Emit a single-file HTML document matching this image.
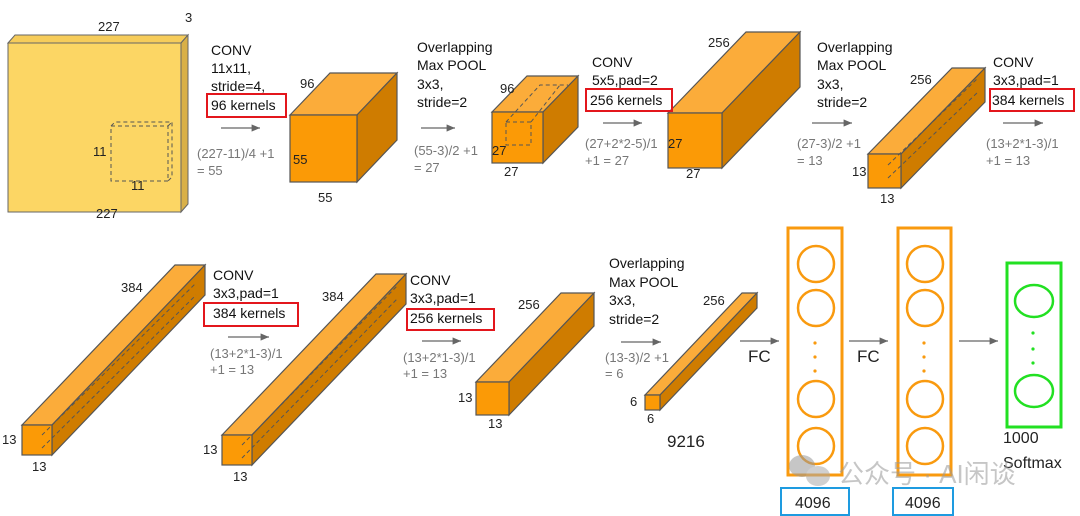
<!DOCTYPE html>
<html><head><meta charset="utf-8"><style>
html,body{margin:0;padding:0;background:#fff;}
svg{display:block;font-family:"Liberation Sans","Noto Sans CJK SC",sans-serif;}
.t{font-size:14px;fill:#111;}
.g{font-size:13px;fill:#777;}
.n{font-size:13px;fill:#222;}
.f{fill:#fb9a06;stroke:#555;stroke-width:1.2;}
.tp{fill:#fbac3a;stroke:#555;stroke-width:1.2;}
.sd{fill:#cf7c00;stroke:#555;stroke-width:1.2;}
.d{fill:none;stroke:#555;stroke-width:1;stroke-dasharray:4,3;}
.r{fill:none;stroke:#e3161c;stroke-width:2;}
.a{stroke:#666;stroke-width:1.2;}
</style></head><body>
<svg width="1080" height="516" viewBox="0 0 1080 516" xmlns="http://www.w3.org/2000/svg">
<defs><marker id="m" markerWidth="8" markerHeight="8" refX="7" refY="3" orient="auto"><path d="M0,0 L7,3 L0,6 z" fill="#666"/></marker></defs>

<!-- input -->
<polygon points="8,43 15,35 188,35 181,43" fill="#f6cc5a" stroke="#666"/>
<polygon points="181,43 188,35 188,204 181,212" fill="#d9b048" stroke="#666"/>
<rect x="8" y="43" width="173" height="169" fill="#fcd664" stroke="#666"/>
<rect x="111" y="126" width="57" height="55" class="d"/>
<path d="M111,126 L115,122 L172,122 L172,177 L168,181 M168,126 L172,122" class="d"/>
<text x="98" y="31" class="n">227</text><text x="185" y="22" class="n">3</text>
<text x="96" y="218" class="n">227</text>
<text x="93" y="156" class="n" font-size="14">11</text><text x="131" y="190" class="n" font-size="14">11</text>

<!-- box55 -->
<polygon class="tp" points="290,115 330,73 397,73 357,115"/>
<polygon class="sd" points="357,115 397,73 397,140 357,182"/>
<rect class="f" x="290" y="115" width="67" height="67"/>
<text x="300" y="88" class="n">96</text><text x="293" y="164" class="n" font-size="14">55</text><text x="318" y="202" class="n">55</text>

<!-- box27 -->
<polygon class="tp" points="492,112 527,76 578,76 543,112"/>
<polygon class="sd" points="543,112 578,76 578,127 543,163"/>
<rect class="f" x="492" y="112" width="51" height="51"/>
<rect x="506" y="122" width="25" height="23" class="d"/>
<path d="M531,122 L560,85 M506,122 L540,85 L568,85" class="d"/>
<text x="500" y="93" class="n">96</text><text x="492" y="155" class="n" font-size="14">27</text><text x="504" y="176" class="n">27</text>

<!-- box256 -->
<polygon class="tp" points="668,113 746,32 800,32 722,113"/>
<polygon class="sd" points="722,113 800,32 800,87 722,168"/>
<rect class="f" x="668" y="113" width="54" height="55"/>
<text x="708" y="47" class="n">256</text><text x="668" y="148" class="n" font-size="14">27</text><text x="686" y="178" class="n">27</text>

<!-- box13 -->
<polygon class="tp" points="868,154 952,68 985,68 901,154"/>
<polygon class="sd" points="901,154 985,68 985,102 901,188"/>
<rect class="f" x="868" y="154" width="33" height="34"/>
<path d="M888,165 L978,78 M888,178 L978,92" class="d"/>
<text x="910" y="84" class="n">256</text><text x="852" y="176" class="n">13</text><text x="880" y="203" class="n">13</text>

<!-- row2 A -->
<polygon class="tp" points="22,425 175,265 205,265 52,425"/>
<polygon class="sd" points="52,425 205,265 205,295 52,455"/>
<rect class="f" x="22" y="425" width="30" height="30"/>
<path d="M42,435 L196,283 M42,448 L196,295" class="d"/>
<text x="121" y="292" class="n">384</text><text x="2" y="444" class="n">13</text><text x="32" y="471" class="n">13</text>

<!-- B -->
<polygon class="tp" points="222,435 376,274 406,274 252,435"/>
<polygon class="sd" points="252,435 406,274 406,304 252,465"/>
<rect class="f" x="222" y="435" width="30" height="30"/>
<path d="M242,445 L398,285 M242,458 L398,298" class="d"/>
<text x="322" y="301" class="n">384</text><text x="203" y="454" class="n">13</text><text x="233" y="481" class="n">13</text>

<!-- C -->
<polygon class="tp" points="476,382 561,293 594,293 509,382"/>
<polygon class="sd" points="509,382 594,293 594,326 509,415"/>
<rect class="f" x="476" y="382" width="33" height="33"/>
<text x="518" y="309" class="n">256</text><text x="458" y="402" class="n">13</text><text x="488" y="428" class="n">13</text>

<!-- D -->
<polygon class="tp" points="645,395 742,293 757,293 660,395"/>
<polygon class="sd" points="660,395 757,293 757,308 660,410"/>
<rect class="f" x="645" y="395" width="15" height="15"/>
<text x="703" y="305" class="n">256</text><text x="630" y="406" class="n">6</text><text x="647" y="423" class="n">6</text>
<text x="667" y="447" font-size="17" fill="#222">9216</text>

<!-- text row1 -->
<text class="t" x="211" y="55">CONV</text><text class="t" x="211" y="73">11x11,</text><text class="t" x="211" y="91">stride=4,</text><text class="t" x="211" y="110">96 kernels</text>
<rect class="r" x="207" y="94" width="79" height="23"/>
<line class="a" x1="221" y1="128" x2="260" y2="128" marker-end="url(#m)"/>
<text class="g" x="197" y="158">(227-11)/4 +1</text><text class="g" x="197" y="175">= 55</text>

<text class="t" x="417" y="52">Overlapping</text><text class="t" x="417" y="70">Max POOL</text><text class="t" x="417" y="89">3x3,</text><text class="t" x="417" y="107">stride=2</text>
<line class="a" x1="421" y1="128" x2="455" y2="128" marker-end="url(#m)"/>
<text class="g" x="414" y="155">(55-3)/2 +1</text><text class="g" x="414" y="172">= 27</text>

<text class="t" x="592" y="67">CONV</text><text class="t" x="592" y="85">5x5,pad=2</text><text class="t" x="590" y="105">256 kernels</text>
<rect class="r" x="586" y="89" width="86" height="22"/>
<line class="a" x1="603" y1="123" x2="642" y2="123" marker-end="url(#m)"/>
<text class="g" x="585" y="148">(27+2*2-5)/1</text><text class="g" x="585" y="165">+1  = 27</text>

<text class="t" x="817" y="52">Overlapping</text><text class="t" x="817" y="70">Max POOL</text><text class="t" x="817" y="89">3x3,</text><text class="t" x="817" y="107">stride=2</text>
<line class="a" x1="812" y1="123" x2="852" y2="123" marker-end="url(#m)"/>
<text class="g" x="797" y="148">(27-3)/2 +1</text><text class="g" x="797" y="165">= 13</text>

<text class="t" x="993" y="67">CONV</text><text class="t" x="993" y="85">3x3,pad=1</text><text class="t" x="992" y="105">384 kernels</text>
<rect class="r" x="990" y="89" width="84" height="22"/>
<line class="a" x1="1003" y1="123" x2="1043" y2="123" marker-end="url(#m)"/>
<text class="g" x="986" y="148">(13+2*1-3)/1</text><text class="g" x="986" y="165">+1  = 13</text>

<!-- text row2 -->
<text class="t" x="213" y="280">CONV</text><text class="t" x="213" y="298">3x3,pad=1</text><text class="t" x="213" y="318">384 kernels</text>
<rect class="r" x="204" y="303" width="94" height="23"/>
<line class="a" x1="228" y1="337" x2="269" y2="337" marker-end="url(#m)"/>
<text class="g" x="210" y="358">(13+2*1-3)/1</text><text class="g" x="210" y="374">+1  = 13</text>

<text class="t" x="410" y="285">CONV</text><text class="t" x="410" y="303">3x3,pad=1</text><text class="t" x="410" y="323">256 kernels</text>
<rect class="r" x="407" y="309" width="87" height="21"/>
<line class="a" x1="422" y1="341" x2="461" y2="341" marker-end="url(#m)"/>
<text class="g" x="403" y="362">(13+2*1-3)/1</text><text class="g" x="403" y="378">+1  = 13</text>

<text class="t" x="609" y="268">Overlapping</text><text class="t" x="609" y="287">Max POOL</text><text class="t" x="609" y="305">3x3,</text><text class="t" x="609" y="324">stride=2</text>
<line class="a" x1="621" y1="342" x2="661" y2="342" marker-end="url(#m)"/>
<text class="g" x="605" y="362">(13-3)/2 +1</text><text class="g" x="605" y="378">= 6</text>

<!-- FC -->
<line class="a" x1="740" y1="341" x2="779" y2="341" marker-end="url(#m)"/>
<text x="748" y="362" font-size="17" fill="#222">FC</text>
<rect x="788" y="228" width="54" height="247" fill="none" stroke="#f99a0f" stroke-width="3"/>
<g fill="none" stroke="#f99a0f" stroke-width="2.5">
<circle cx="816" cy="264" r="18"/><circle cx="816" cy="308" r="18"/><circle cx="816" cy="399" r="18"/><circle cx="816" cy="446" r="18"/>
<circle cx="925" cy="264" r="18"/><circle cx="925" cy="308" r="18"/><circle cx="925" cy="399" r="18"/><circle cx="925" cy="446" r="18"/>
</g>
<g fill="#f99a0f"><circle cx="815" cy="343" r="1.6"/><circle cx="815" cy="357" r="1.6"/><circle cx="815" cy="371" r="1.6"/>
<circle cx="924" cy="343" r="1.6"/><circle cx="924" cy="357" r="1.6"/><circle cx="924" cy="371" r="1.6"/></g>
<line class="a" x1="849" y1="341" x2="888" y2="341" marker-end="url(#m)"/>
<text x="857" y="362" font-size="17" fill="#222">FC</text>
<rect x="898" y="228" width="53" height="247" fill="none" stroke="#f99a0f" stroke-width="3"/>
<line class="a" x1="959" y1="341" x2="998" y2="341" marker-end="url(#m)"/>
<rect x="1007" y="263" width="54" height="164" fill="none" stroke="#22e022" stroke-width="3"/>
<g fill="none" stroke="#22e022" stroke-width="2.5"><ellipse cx="1034" cy="301" rx="19" ry="16"/><ellipse cx="1034" cy="391" rx="19" ry="16"/></g>
<g fill="#22e022"><circle cx="1033" cy="333" r="1.6"/><circle cx="1033" cy="349" r="1.6"/><circle cx="1033" cy="363" r="1.6"/></g>
<text x="1003" y="443" font-size="16" fill="#222">1000</text>
<text x="1003" y="468" font-size="16" fill="#222">Softmax</text>
<rect x="781" y="488" width="68" height="27" fill="none" stroke="#1e9be0" stroke-width="2"/>
<text x="795" y="508" font-size="16" fill="#222">4096</text>
<rect x="893" y="488" width="60" height="27" fill="none" stroke="#1e9be0" stroke-width="2"/>
<text x="905" y="508" font-size="16" fill="#222">4096</text>

<!-- watermark -->
<g opacity="0.55">
<ellipse cx="802" cy="466" rx="13" ry="11" fill="#999"/>
<ellipse cx="818" cy="476" rx="12" ry="10" fill="#aaa"/>
<text x="838" y="483" font-size="26" fill="#999">公众号 · AI闲谈</text>
</g>
</svg>
</body></html>
